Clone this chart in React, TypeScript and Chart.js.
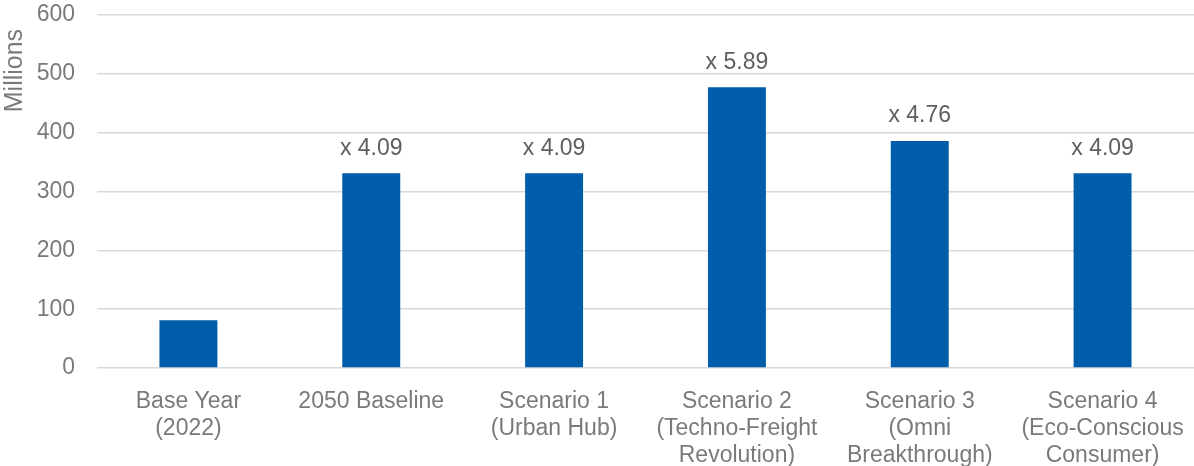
import React, { useEffect, useRef } from "react";
import { Chart, registerables } from "chart.js";

Chart.register(...registerables);

const categories: string[][] = [
  ["Base Year", "(2022)"],
  ["2050 Baseline"],
  ["Scenario 1", "(Urban Hub)"],
  ["Scenario 2", "(Techno-Freight", "Revolution)"],
  ["Scenario 3", "(Omni", "Breakthrough)"],
  ["Scenario 4", "(Eco-Conscious", "Consumer)"],
];
const values: number[] = [81, 331, 331, 477, 386, 331];
const multipliers: string[] = ["", "x 4.09", "x 4.09", "x 5.89", "x 4.76", "x 4.09"];
const yTicks: number[] = [0, 100, 200, 300, 400, 500, 600];
const yTitle = "Millions";

const FONT = "'Liberation Sans', Arial, sans-serif";
const BAR = "#005DAA";
const TXT = "#7a7a7a";
const FS = 23;

const labelPlugin = {
  id: "multLabels",
  afterDatasetsDraw(chart: any) {
    const { ctx } = chart;
    const meta = chart.getDatasetMeta(0);
    ctx.save();
    ctx.font = `${FS}px ${FONT}`;
    ctx.fillStyle = "#5f5f5f";
    ctx.textAlign = "center";
    ctx.textBaseline = "middle";
    meta.data.forEach((bar: any, i: number) => {
      const t = multipliers[i];
      if (!t) return;
      ctx.fillText(t, bar.x, bar.y - 25);
    });
    ctx.restore();
  },
};

export default function App() {
  const ref = useRef<HTMLCanvasElement | null>(null);
  useEffect(() => {
    document.body.style.margin = "0";
    const chart = new Chart(ref.current as HTMLCanvasElement, {
      type: "bar",
      data: {
        labels: categories,
        datasets: [
          {
            data: values,
            backgroundColor: BAR,
            barPercentage: 0.317,
            categoryPercentage: 1,
          },
        ],
      },
      options: {
        responsive: false,
        animation: false,
        layout: { padding: { top: 15, right: 0, left: 0, bottom: 0 } },
        plugins: { legend: { display: false }, tooltip: { enabled: false } },
        scales: {
          x: {
            afterFit: (s: any) => {
              s.height = 98;
              s.paddingLeft = 0;
              s.paddingRight = 0;
            },
            grid: { display: false },
            border: { display: false },
            ticks: {
              color: TXT,
              font: { family: FONT, size: FS, lineHeight: 1.17 },
              maxRotation: 0,
              autoSkip: false,
              padding: 12,
            },
          },
          y: {
            min: 0,
            max: 600,
            afterBuildTicks: (axis: any) => {
              axis.ticks = yTicks.map((v) => ({ value: v }));
            },
            afterFit: (s: any) => {
              s.width = 97;
              s.paddingTop = 0;
              s.paddingBottom = 0;
            },
            grid: { color: "#d9d9d9", lineWidth: 1.5, drawTicks: false },
            border: { display: false },
            ticks: {
              color: TXT,
              font: { family: FONT, size: FS },
              padding: 22,
            },
            title: {
              display: true,
              text: yTitle + "  ",
              align: "end",
              color: TXT,
              font: { family: FONT, size: 25 },
              padding: { top: 0, bottom: 10 },
            },
          },
        },
      },
      plugins: [labelPlugin],
    });
    return () => chart.destroy();
  }, []);
  return (
    <div style={{ position: "fixed", left: 0, top: 0, width: 1194, height: 466 }}>
      <canvas ref={ref} width={1194} height={466} style={{ width: 1194, height: 466 }} />
    </div>
  );
}
